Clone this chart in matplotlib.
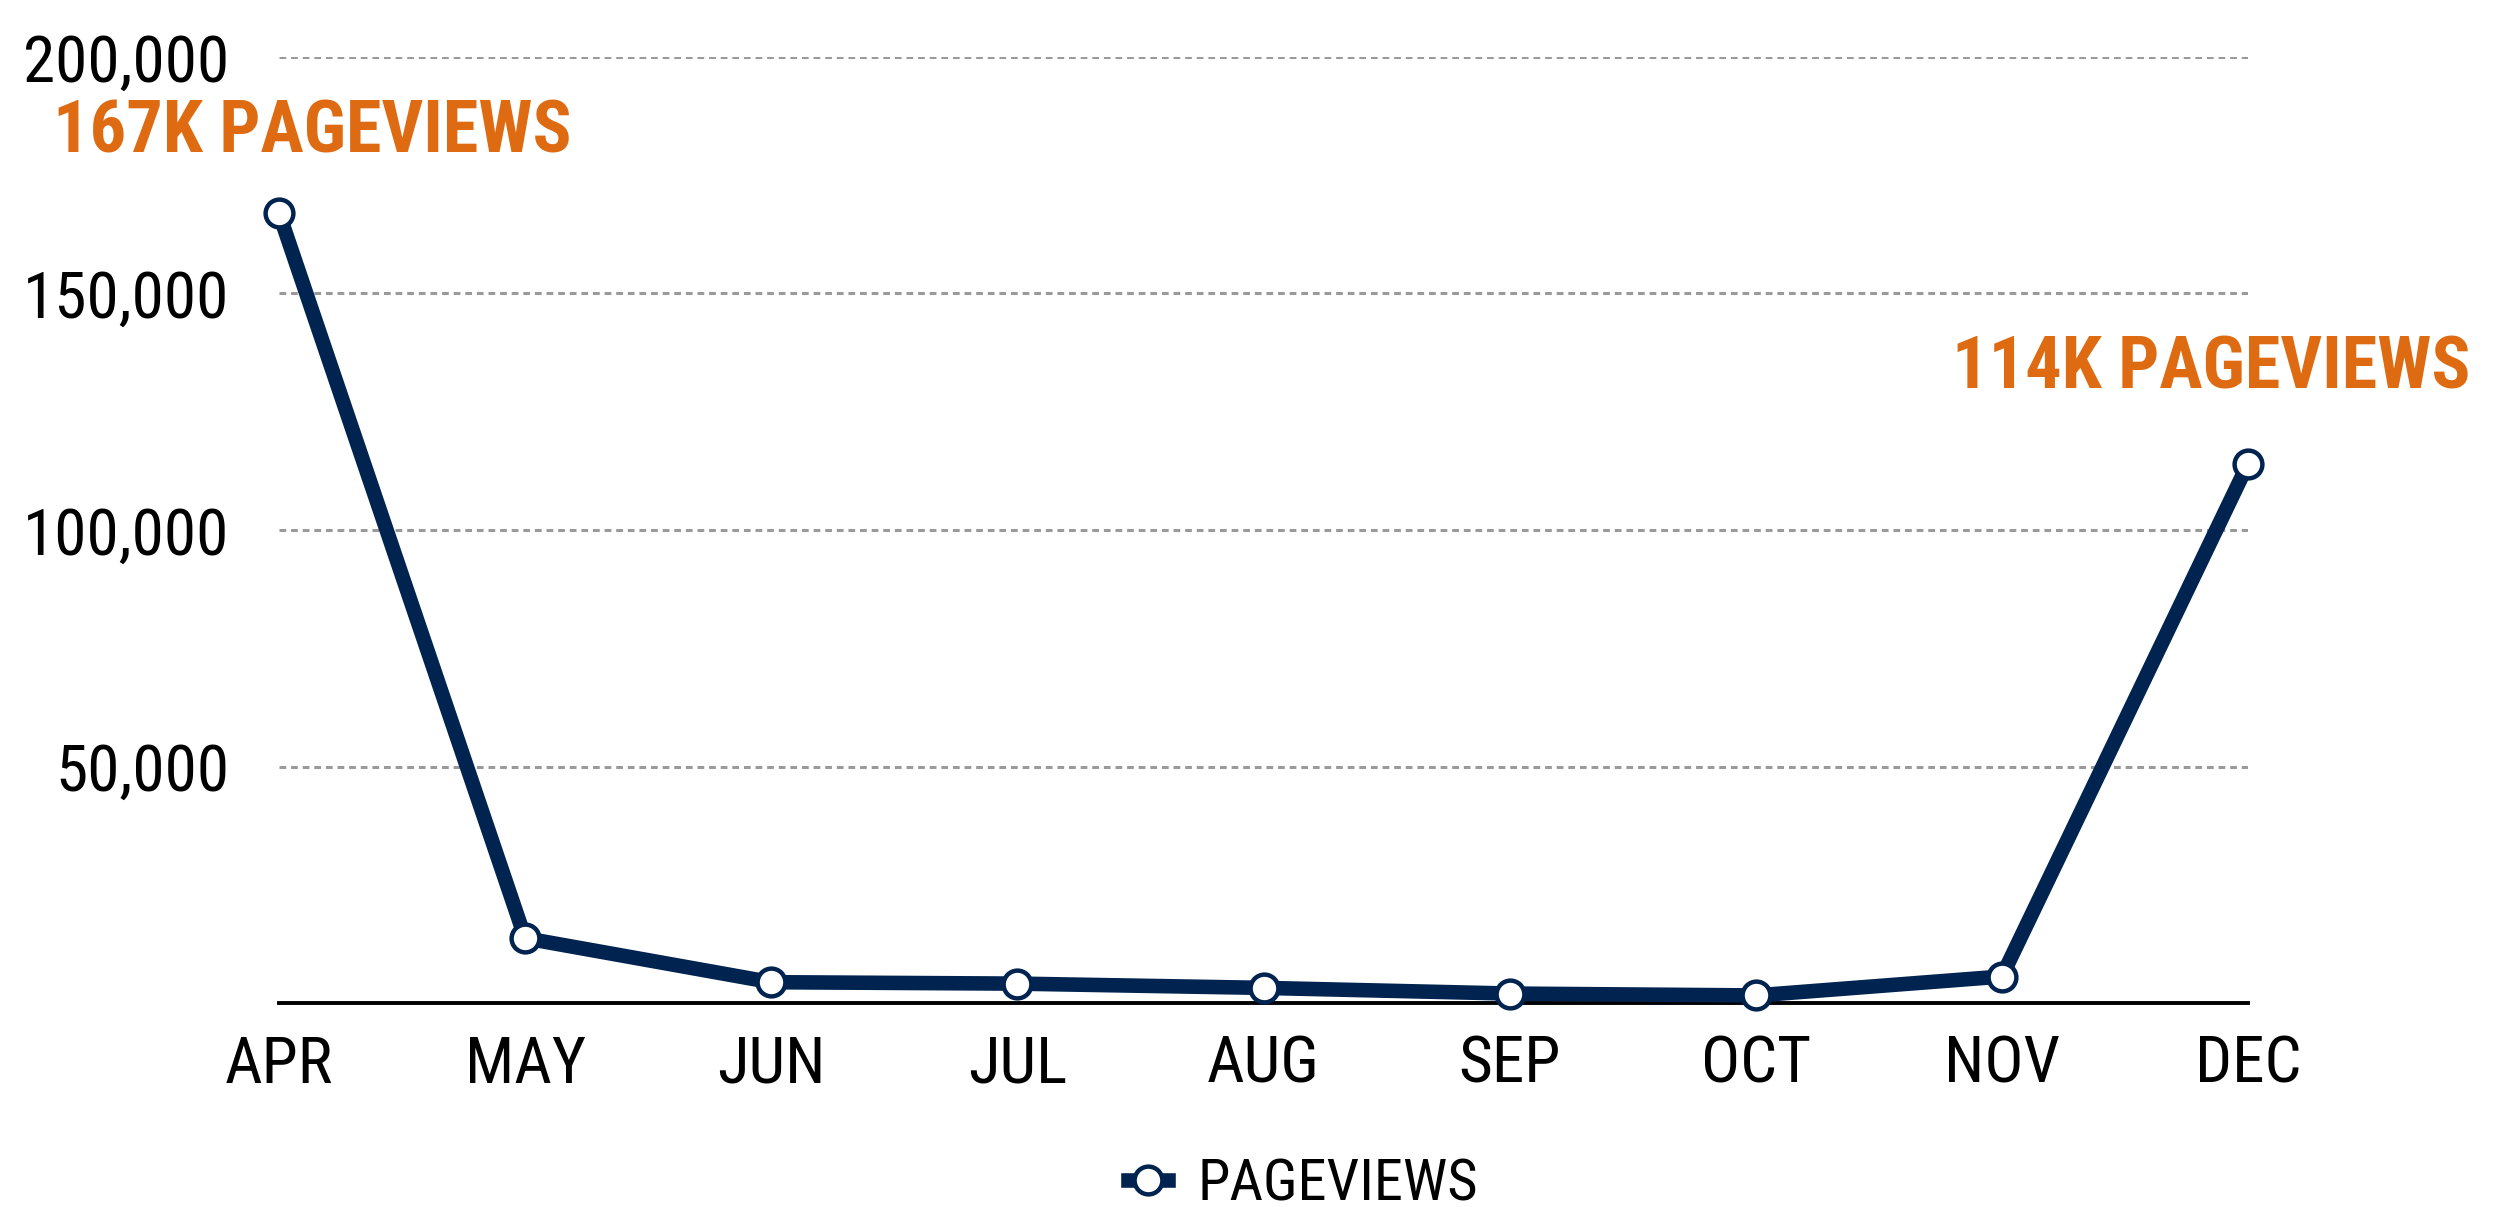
import numpy as np
import matplotlib
matplotlib.use('Agg')
import matplotlib.pyplot as plt
from matplotlib import font_manager
from matplotlib.ticker import FuncFormatter

# narrow face for all text, whichever one this machine has
installed = {f.name for f in font_manager.fontManager.ttflist}
preferred = ['Liberation Sans Narrow', 'Roboto Condensed', 'DejaVu Sans Condensed',
             'Open Sans Condensed', 'Noto Sans Condensed', 'Arial Narrow']
narrow = [n for n in preferred if n in installed]
plt.rcParams['font.family'] = narrow[:1] + ['DejaVu Sans']

months = ['APR', 'MAY', 'JUN', 'JUL', 'AUG', 'SEP', 'OCT', 'NOV', 'DEC']
pageviews = [167000, 13700, 4400, 4100, 3200, 2000, 1600, 5600, 114000]
y_ticks = [50000, 100000, 150000, 200000]
callouts = {0: '167K PAGEVIEWS', 8: '114K PAGEVIEWS'}

navy = '#00234f'
orange = '#de6b12'

fig = plt.figure(figsize=(25, 12.07), dpi=100)
ax = fig.add_axes([0.1116, 0.169, 0.7876, 0.7838])

x = np.arange(len(months))
ax.plot(x, pageviews, color=navy, lw=10.5, marker='o', ms=20,
        mfc='white', mec=navy, mew=3.2, clip_on=False, zorder=3,
        label='PAGEVIEWS')

ax.set_xlim(0, len(months) - 1)
ax.set_ylim(0, 200000)
ax.set_xticks(x)
ax.set_xticklabels(months)
ax.set_yticks(y_ticks)
ax.yaxis.set_major_formatter(FuncFormatter(lambda v, p: f'{int(v):,}'))
ax.tick_params(axis='both', length=0, labelsize=47, colors='black')
ax.tick_params(axis='y', pad=36)
ax.tick_params(axis='x', pad=22)

ax.grid(axis='y', color='#9a9a9a', ls=(0, (2.2, 1.6)), lw=2.2, zorder=0)
for s in ['top', 'right', 'left']:
    ax.spines[s].set_visible(False)
ax.spines['bottom'].set_color('black')
ax.spines['bottom'].set_linewidth(2.8)
ax.spines['bottom'].set_zorder(2)

# orange callouts above first and last months
ax.annotate(callouts[0], xy=(0, pageviews[0]), xytext=(-226, 80),
            textcoords='offset pixels', ha='left', va='center',
            fontsize=52, fontweight='bold', color=orange)
ax.annotate(callouts[8], xy=(8, pageviews[8]), xytext=(-37, 95),
            textcoords='offset pixels', ha='center', va='center',
            fontsize=52, fontweight='bold', color=orange)

ax.legend(loc='center', bbox_to_anchor=(0.52, -0.192), frameon=False,
          fontsize=42, handlelength=0.7, handletextpad=0.5, markerscale=1.0)

fig.savefig('out.png', dpi=100)
